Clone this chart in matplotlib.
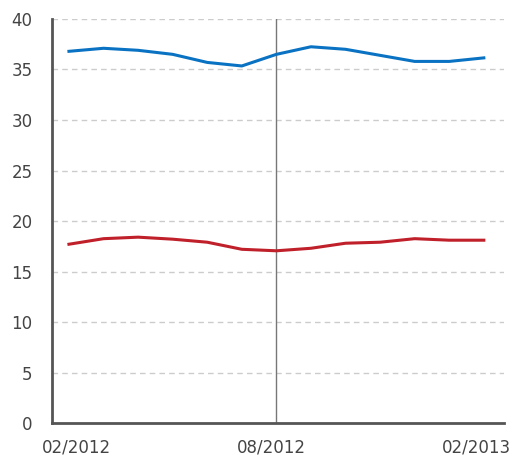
import numpy as np
import matplotlib
matplotlib.use('Agg')
import matplotlib.pyplot as plt

# monthly values, 02/2012 .. 02/2013
months = ['02/2012', '03/2012', '04/2012', '05/2012', '06/2012', '07/2012', '08/2012',
          '09/2012', '10/2012', '11/2012', '12/2012', '01/2013', '02/2013']
blue_vals = [36.8, 37.1, 36.9, 36.5, 35.7, 35.35, 36.5, 37.25, 37.0, 36.4, 35.8, 35.8, 36.15]
red_vals = [17.7, 18.25, 18.4, 18.2, 17.9, 17.2, 17.05, 17.3, 17.8, 17.9, 18.25, 18.1, 18.1]
shown_labels = ['02/2012', '08/2012', '02/2013']
marker_month = '08/2012'

x = np.arange(len(months))

plt.rcParams['font.family'] = ['DejaVu Sans']
fig = plt.figure(figsize=(5.2, 4.61), dpi=100)
ax = fig.add_axes([0.1, 0.0824, 0.869, 0.8764])

for y in range(5, 41, 5):
    ax.axhline(y, color='#cccccc', lw=1, ls=(0, (4, 3)), zorder=0)

ax.axvline(months.index(marker_month), color='#777777', lw=1, zorder=1)

ax.plot(x, blue_vals, color='#0a72c2', lw=2.2, zorder=3)
ax.plot(x, red_vals, color='#c0202a', lw=2.2, zorder=3)

ax.set_xlim(-0.49, 12.58)
ax.set_ylim(0, 40)
ax.set_yticks(range(0, 41, 5))

tick_pos = [months.index(m) for m in shown_labels]
tick_pos = [tick_pos[0] + 0.23, tick_pos[1] - 0.15, tick_pos[2] - 0.2]
ax.set_xticks(tick_pos)
ax.set_xticklabels(shown_labels)

ax.tick_params(length=0, labelsize=12, colors='#444444')
ax.tick_params(axis='y', pad=14)
ax.tick_params(axis='x', pad=11)

for s in ['top', 'right']:
    ax.spines[s].set_visible(False)
for s in ['left', 'bottom']:
    ax.spines[s].set_color('#555555')
    ax.spines[s].set_linewidth(2)

fig.savefig('out.png', dpi=100)
